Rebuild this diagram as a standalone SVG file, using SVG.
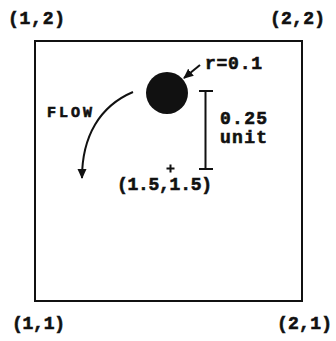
<svg xmlns="http://www.w3.org/2000/svg" width="336" height="341" viewBox="0 0 336 341">
<style>
text{font-family:"Liberation Mono","Courier New",monospace;font-weight:bold;fill:#111;stroke:#111;stroke-width:0.6;}
.lbl{font-size:18px;}
.ln{stroke:#111;fill:none;stroke-width:2;}
</style>
<defs>
<marker id="ah" markerWidth="10" markerHeight="12" refX="9" refY="5" orient="auto" markerUnits="userSpaceOnUse">
<path d="M0,0.5 L10,5 L0,9.5 Z" fill="#111"/>
</marker>
</defs>
<rect width="336" height="341" fill="#fff"/>
<g id="box"><rect x="35" y="41" width="267" height="260" class="ln"/></g>
<g id="corners">
<text class="lbl" x="8" y="24" textLength="57">(1,2)</text>
<text class="lbl" x="270" y="24" textLength="55">(2,2)</text>
<text class="lbl" x="12" y="329" textLength="53">(1,1)</text>
<text class="lbl" x="277" y="329" textLength="55">(2,1)</text>
</g>
<g id="cylinder">
<circle cx="167" cy="93" r="21" fill="#111"/>
<text class="lbl" x="205" y="69" textLength="57">r=0.1</text>
</g>
<g id="center">
<path d="M170.5,164.5 V172.5 M166.5,168.5 H174.5" stroke="#111" stroke-width="2"/>
<text class="lbl" x="117" y="190" textLength="95">(1.5,1.5)</text>
</g>
<g id="scale">
<path d="M205.5,91 V169 M199,91 H213 M199,169 H213" class="ln"/>
<text class="lbl" x="220" y="124" textLength="47">0.25</text>
<text class="lbl" x="220" y="143" textLength="47">unit</text>
</g>
<g id="flow">
<text class="lbl" x="47" y="117" textLength="45" style="font-size:15px">FLOW</text>
</g>
<g id="connectors">
<path d="M200,65 L184,78" class="ln" marker-end="url(#ah)"/>
<path d="M133,92 C100,106 82,136 82,178" class="ln" marker-end="url(#ah)"/>
</g>
</svg>
